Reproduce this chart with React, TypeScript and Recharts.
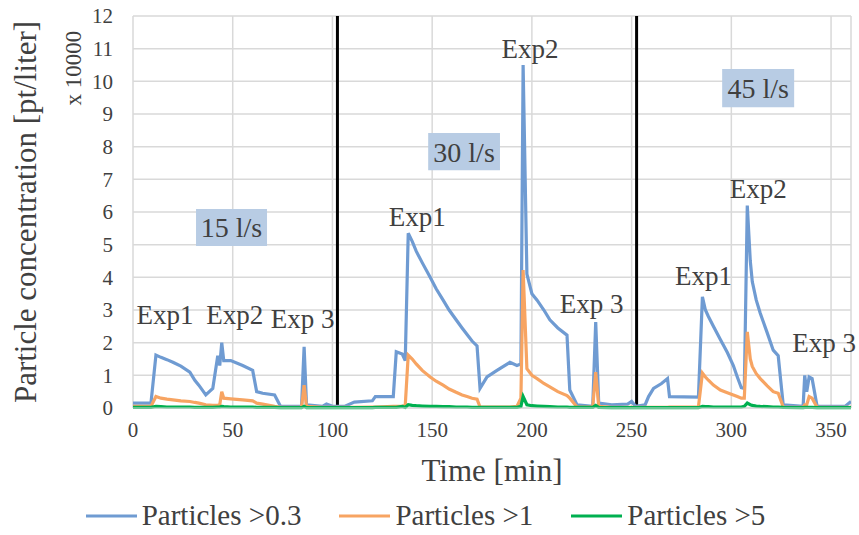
import React from "react";
import {
  CartesianGrid,
  Legend,
  Line,
  LineChart,
  ReferenceArea,
  ReferenceDot,
  ReferenceLine,
  XAxis,
  YAxis,
} from "recharts";

const FONT = "'Liberation Serif', 'Times New Roman', serif";
const TEXT = "#404040";

// time in minutes
const times = [
  0, 9, 11.5, 14, 17, 20, 24, 28.5, 31, 33, 36.5, 40, 42.5, 43.5, 44.5, 45.5, 49, 55, 60, 62, 65, 71, 74,
  84.5, 85.8, 87, 95, 97, 100, 106, 111, 120, 121.5, 130.5, 132, 135, 136.5,
  138, 140, 142, 145, 149, 152, 155.5, 158.5, 162, 165, 167.5, 170, 172.5,
  174, 177.5, 182.5, 189, 192.5, 194.5, 195.6, 197.5, 200, 202.6, 206, 209, 213, 217.6,
  219, 222.6, 230.5, 232, 233.5, 240, 248, 250, 252, 256.8, 258.5, 261, 265, 268, 269, 283.5,
  285.5, 287, 288.5, 291, 294.5, 298, 301, 303, 305, 306.5,
  308, 309.5, 310.5, 312.5, 314.5, 318, 321, 323.5, 326,
  336, 336.8, 337.8, 339, 340.5, 343, 357, 360,
];

// particle concentration, x 10000 pt/liter
const p03 = [
  0.15, 0.15, 1.62, 1.55, 1.48, 1.4, 1.28, 1.1, 0.85, 0.7, 0.4, 0.6, 1.6, 1.3, 2.0, 1.45, 1.45, 1.3, 1.15, 0.5, 0.45, 0.4, 0.05,
  0.05, 1.87, 0.1, 0.05, 0.12, 0.05, 0.05, 0.18, 0.22, 0.35, 0.35, 1.72, 1.65, 1.45,
  5.35, 5.1, 4.8, 4.45, 4.0, 3.65, 3.3, 3.0, 2.7, 2.45, 2.25, 2.05, 1.9,
  0.6, 0.95, 1.15, 1.4, 1.3, 1.35, 10.5, 4.1, 3.5, 3.3, 3.0, 2.7, 2.45, 2.23,
  0.55, 0.1, 0.05, 2.63, 0.15, 0.1, 0.12, 0.2, 0.05, 0.1, 0.35, 0.6, 0.75, 0.9, 0.35, 0.33,
  3.4, 3.0, 2.8, 2.5, 2.1, 1.7, 1.3, 0.95, 0.62, 0.6,
  6.2, 4.5, 3.87, 3.3, 2.9, 2.3, 1.77, 1.6, 0.1,
  0.05, 1.0, 0.5, 0.95, 0.9, 0.05, 0.05, 0.2,
];
const p1 = [
  0.05, 0.05, 0.35, 0.3, 0.27, 0.25, 0.22, 0.2, 0.17, 0.15, 0.1, 0.08, 0.08, 0.1, 0.5, 0.3, 0.28, 0.25, 0.22, 0.15, 0.12, 0.05, 0.02,
  0.02, 0.7, 0.05, 0.02, 0.02, 0.02, 0.02, 0.02, 0.03, 0.03, 0.05, 0.05, 0.05, 0.08,
  1.62, 1.5, 1.35, 1.15, 0.95, 0.82, 0.7, 0.58, 0.48, 0.4, 0.35, 0.3, 0.27,
  0.03, 0.03, 0.03, 0.03, 0.05, 0.3, 4.22, 1.2, 1.0, 0.9, 0.75, 0.65, 0.5, 0.38,
  0.3, 0.03, 0.03, 1.1, 0.05, 0.02, 0.02, 0.02, 0.02, 0.02, 0.02, 0.02, 0.02, 0.02, 0.03, 0.03,
  1.07, 0.95, 0.85, 0.7, 0.55, 0.47, 0.4, 0.35, 0.3, 0.3,
  2.33, 1.5, 1.27, 1.05, 0.9, 0.68, 0.5, 0.45, 0.03,
  0.02, 0.1, 0.1, 0.35, 0.3, 0.02, 0.02, 0.02,
];
const p5 = [
  0.02, 0.02, 0.05, 0.04, 0.03, 0.03, 0.03, 0.03, 0.02, 0.02, 0.02, 0.02, 0.03, 0.03, 0.05, 0.04, 0.03, 0.03, 0.03, 0.02, 0.02, 0.02, 0.01,
  0.01, 0.05, 0.01, 0.01, 0.01, 0.01, 0.01, 0.01, 0.01, 0.02, 0.02, 0.02, 0.05, 0.02,
  0.1, 0.08, 0.07, 0.06, 0.05, 0.05, 0.04, 0.04, 0.03, 0.03, 0.03, 0.02, 0.02,
  0.02, 0.02, 0.02, 0.02, 0.02, 0.05, 0.35, 0.1, 0.07, 0.06, 0.05, 0.04, 0.03, 0.03,
  0.02, 0.02, 0.02, 0.08, 0.02, 0.01, 0.01, 0.01, 0.01, 0.01, 0.01, 0.01, 0.01, 0.01, 0.01, 0.01,
  0.05, 0.04, 0.04, 0.03, 0.03, 0.03, 0.03, 0.03, 0.03, 0.05,
  0.15, 0.1, 0.08, 0.06, 0.05, 0.04, 0.03, 0.03, 0.02,
  0.01, 0.02, 0.02, 0.02, 0.02, 0.01, 0.01, 0.01,
];

const xTicks = [0, 50, 100, 150, 200, 250, 300, 350];
const yTicks = [0, 1, 2, 3, 4, 5, 6, 7, 8, 9, 10, 11, 12];

// flow rate phase boundaries
const dividers = [102.5, 252.5];

const flowBoxes = [
  { label: "15 l/s", t1: 31.6, t2: 67.2, y1: 4.96, y2: 6.09 },
  { label: "30 l/s", t1: 148, t2: 184, y1: 7.28, y2: 8.42 },
  { label: "45 l/s", t1: 295.4, t2: 331.5, y1: 9.21, y2: 10.38 },
];

const expLabels = [
  { label: "Exp1", t: 16, y: 2.85 },
  { label: "Exp2", t: 51, y: 2.85 },
  { label: "Exp 3", t: 85, y: 2.75 },
  { label: "Exp1", t: 142.5, y: 5.85 },
  { label: "Exp2", t: 199, y: 11.0 },
  { label: "Exp 3", t: 230, y: 3.2 },
  { label: "Exp1", t: 286, y: 4.07 },
  { label: "Exp2", t: 313.5, y: 6.73 },
  { label: "Exp 3", t: 346.5, y: 2.02 },
];

const series = [
  { key: "p03", name: "Particles >0.3", color: "#6f9bd2" },
  { key: "p1", name: "Particles >1", color: "#f7a462" },
  { key: "p5", name: "Particles >5", color: "#00b050" },
];

const data = times.map((t, i) => ({ t, p03: p03[i], p1: p1[i], p5: p5[i] }));

function LegendContent() {
  return (
    <div style={{ display: "flex", justifyContent: "center", alignItems: "center", gap: 38, fontFamily: FONT, fontSize: 29, color: TEXT, marginTop: 16 }}>
      {series.map((s) => (
        <div key={s.key} style={{ display: "flex", alignItems: "center" }}>
          <svg width={51} height={4} style={{ marginRight: 5 }}>
            <line x1={0} y1={2} x2={51} y2={2} stroke={s.color} strokeWidth={3} />
          </svg>
          <span>{s.name}</span>
        </div>
      ))}
    </div>
  );
}

function YTitle(props: any) {
  const vb = props.viewBox || { x: 0, y: 16, height: 392 };
  return (
    <g fontFamily={FONT} fill={TEXT}>
      <text x={0} y={0} transform={`translate(36, ${vb.y + vb.height / 2}) rotate(-90)`} textAnchor="middle" fontSize={31}>
        Particle concentration [pt/liter]
      </text>
      <text x={0} y={0} transform={`translate(81, 68) rotate(-90)`} textAnchor="middle" fontSize={23}>
        x 10000
      </text>
    </g>
  );
}

function XTitle(props: any) {
  const vb = props.viewBox || { x: 133, width: 718 };
  return (
    <text x={vb.x + vb.width / 2} y={481} textAnchor="middle" fontFamily={FONT} fontSize={31} fill={TEXT}>
      Time [min]
    </text>
  );
}

export default function App() {
  return (
    <div style={{ position: "absolute", left: 0, top: 0, background: "#fff" }}>
      <LineChart width={859} height={535} data={data} margin={{ top: 16, right: 8, bottom: 0, left: 0 }}>
        <CartesianGrid stroke="#d9d9d9" strokeWidth={1.5} />
        <XAxis
          dataKey="t"
          type="number"
          domain={[0, 360]}
          ticks={xTicks}
          allowDataOverflow
          height={75}
          tickLine={false}
          axisLine={{ stroke: "#d9d9d9" }}
          tickMargin={8}
          tick={{ fontFamily: FONT, fontSize: 21, fill: TEXT }}
          label={{ content: XTitle } as any}
        />
        <YAxis
          type="number"
          domain={[0, 12]}
          ticks={yTicks}
          width={133}
          tickLine={false}
          axisLine={false}
          tickMargin={14}
          tick={{ fontFamily: FONT, fontSize: 21, fill: TEXT }}
          label={{ content: YTitle } as any}
        />
        {flowBoxes.map((b) => (
          <ReferenceArea
            key={b.label}
            x1={b.t1}
            x2={b.t2}
            y1={b.y1}
            y2={b.y2}
            fill="#b8cce4"
            fillOpacity={1}
            stroke="none"
            label={{ value: b.label, position: "center", fontFamily: FONT, fontSize: 28, fill: TEXT }}
          />
        ))}
        {dividers.map((d) => (
          <ReferenceLine key={d} x={d} stroke="#000" strokeWidth={3} />
        ))}
        {series.map((s) => (
          <Line
            key={s.key}
            type="linear"
            dataKey={s.key}
            name={s.name}
            stroke={s.color}
            strokeWidth={3.2}
            dot={false}
            isAnimationActive={false}
          />
        ))}
        {expLabels.map((e, i) => (
          <ReferenceDot
            key={i}
            x={e.t}
            y={e.y}
            r={0}
            fill="none"
            stroke="none"
            label={{ value: e.label, position: "center", fontFamily: FONT, fontSize: 27, fill: TEXT }}
          />
        ))}
        <Legend verticalAlign="bottom" height={52} content={LegendContent} />
      </LineChart>
    </div>
  );
}
